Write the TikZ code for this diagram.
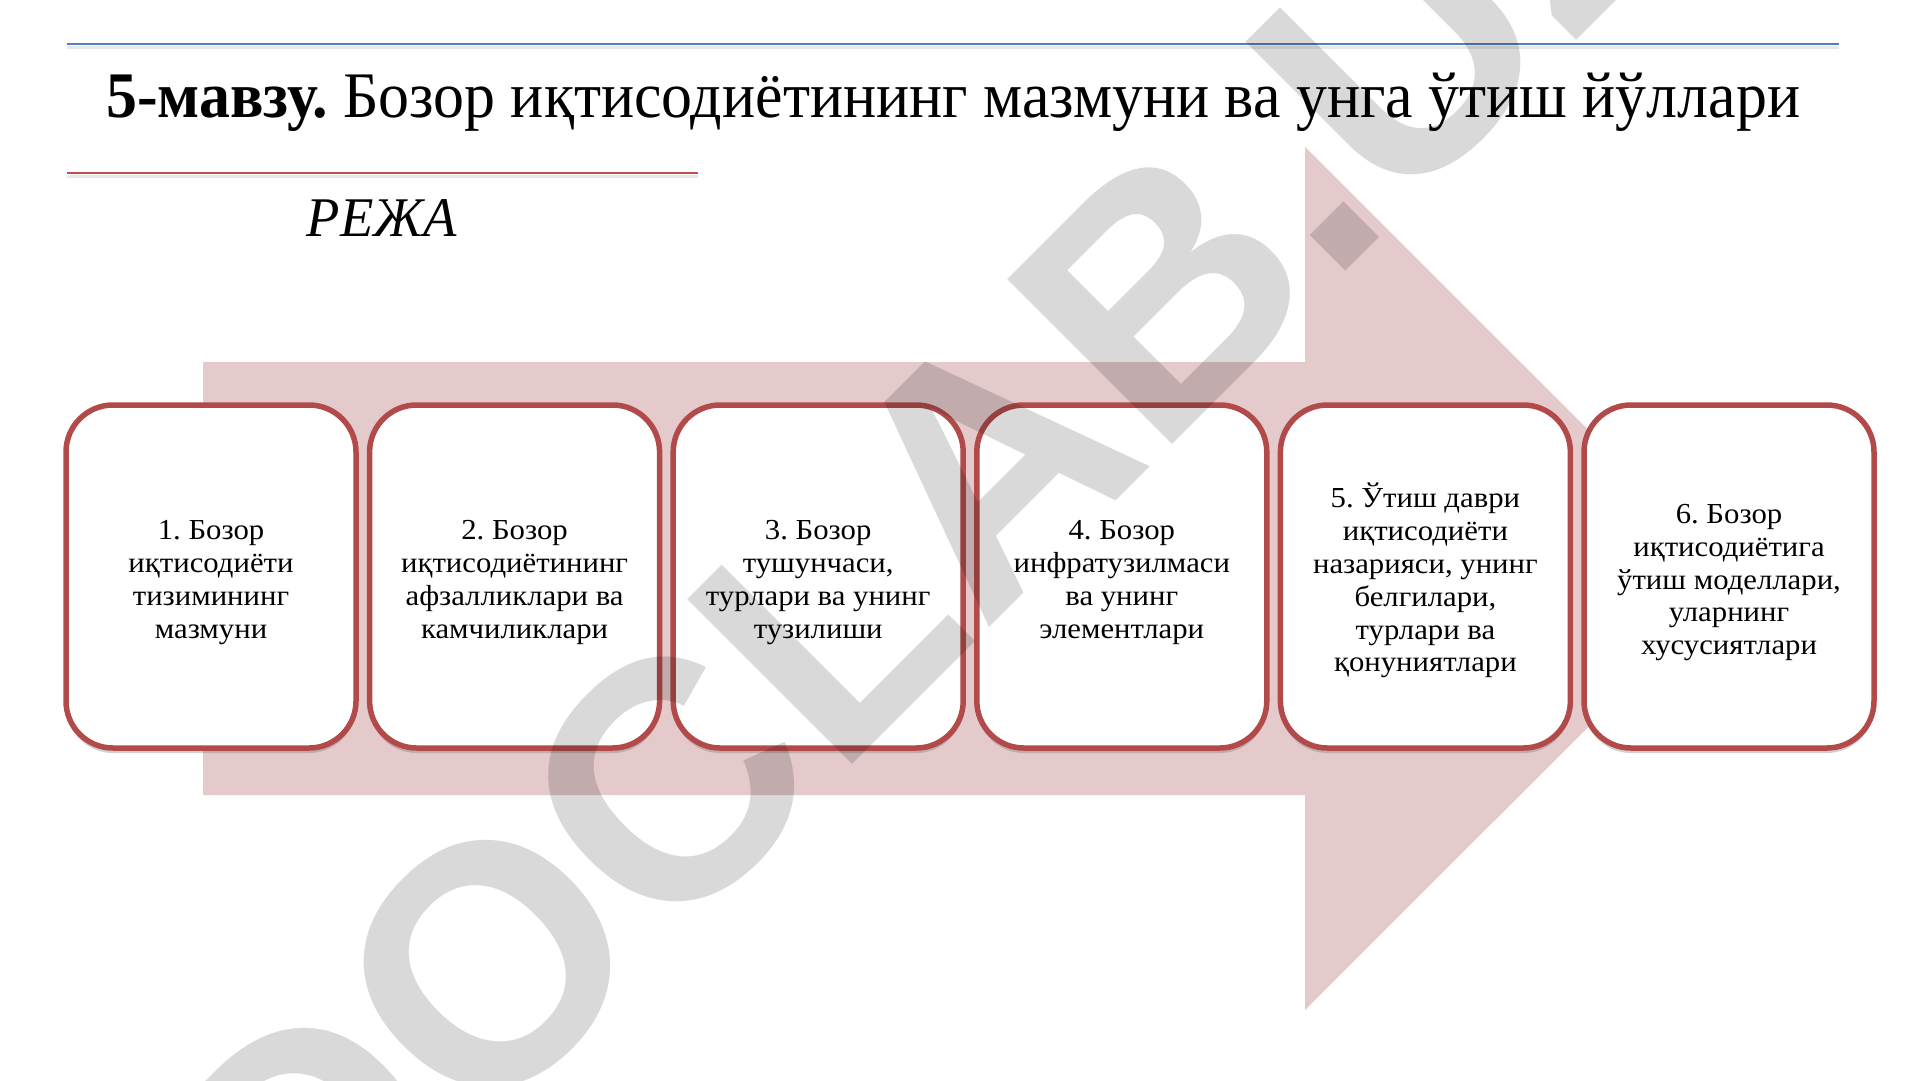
\documentclass[tikz,border=0pt]{standalone}
\usepackage{fontspec}
\usepackage{graphicx}
\setmainfont{Liberation Serif}
\newfontfamily\wmfont{Liberation Sans}
\usetikzlibrary{shadows}
\frenchspacing
\definecolor{arrowpink}{RGB}{229,202,203}
\definecolor{boxred}{RGB}{178,74,74}
\definecolor{lineblue}{RGB}{79,129,189}
\definecolor{linered}{RGB}{192,80,77}
\newcommand\cardsx{1.06}
\newcommand\cardlines[1]{\scalebox{\cardsx}[1]{\fontsize{29}{32.8}\selectfont\begin{tabular}{@{}c@{}}#1\end{tabular}}}
\begin{document}
\begin{tikzpicture}[x=1pt,y=-1pt,
  card/.style={draw=boxred, line width=5.5pt, fill=white, rounded corners=47pt,
    minimum width=290pt, minimum height=343pt, inner sep=0pt,
    drop shadow={shadow xshift=0pt, shadow yshift=-5pt, opacity=0.3, fill=black!60}},
  cardtext/.style={inner sep=0pt, text=black, yshift=-6pt}]
\useasboundingbox (0,0) rectangle (1920,1080);
\fill[white] (0,0) rectangle (1920,1080);
% top rules
\draw[black!9, line width=3pt] (67,47) -- (1839,47);
\draw[lineblue, line width=2pt] (67,44) -- (1839,44);
\draw[black!9, line width=3pt] (67,176) -- (698,176);
\draw[linered, line width=2.2pt] (67,173) -- (698,173);
% title
\node[anchor=base west, inner sep=0pt] (title) at (106,117)
  {\resizebox{1694pt}{\height}{\fontsize{65}{78}\selectfont\textbf{5-мавзу.} Бозор иқтисодиётининг мазмуни ва унга ўтиш йўллари}};
\node[anchor=base, inner sep=0pt] (reja) at (382,236)
  {\resizebox{150pt}{\height}{\fontsize{56}{64}\selectfont\itshape РЕЖА}};
% big arrow
\fill[arrowpink] (203,362) -- (1305,362) -- (1305,147) -- (1737,578.5) -- (1305,1010) -- (1305,795) -- (203,795) -- cycle;
% cards
\foreach \i/\t in {1/{1. Бозор\\иқтисодиёти\\тизимининг\\мазмуни},
                   2/{2. Бозор\\иқтисодиётининг\\афзалликлари ва\\камчиликлари},
                   3/{3. Бозор\\тушунчаси,\\турлари ва унинг\\тузилиши},
                   4/{4. Бозор\\инфратузилмаси\\ва унинг\\элементлари},
                   5/{5. Ўтиш даври\\иқтисодиёти\\назарияси, унинг\\белгилари,\\турлари ва\\қонуниятлари},
                   6/{6. Бозор\\иқтисодиётига\\ўтиш моделлари,\\уларнинг\\хусусиятлари}}{
  \node[card] (b\i) at ({211+303.6*(\i-1)},576.5) {};
  \node[cardtext] (t\i) at (b\i.center) {\cardlines{\t}};
}
% watermark
\node[rotate=45, anchor=base west, inner sep=0pt, text=black, text opacity=0.15] (wm) at (304,1313)
  {\fontsize{339}{400}\selectfont\wmfont\bfseries DOCLAB.UZ};
\end{tikzpicture}
\end{document}
